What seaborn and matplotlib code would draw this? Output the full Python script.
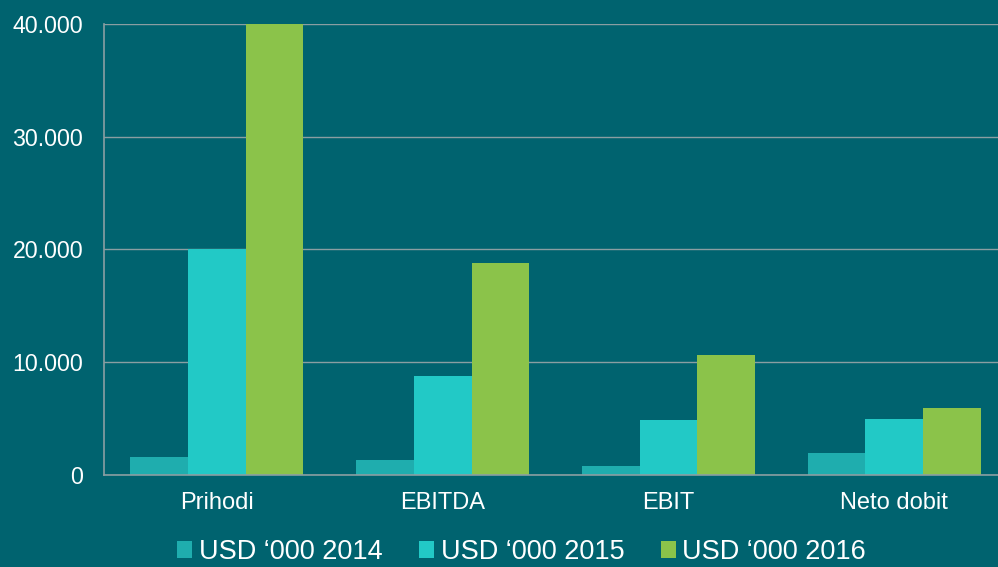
import pandas as pd
import numpy as np
import matplotlib.pyplot as plt
import seaborn as sns
from matplotlib.ticker import FuncFormatter, MultipleLocator

# data (USD '000)
categories = ['Prihodi', 'EBITDA', 'EBIT', 'Neto dobit']
series = ['USD \u2018000 2014', 'USD \u2018000 2015', 'USD \u2018000 2016']
vals_2014 = [1600, 1330, 800, 1980]
vals_2015 = [20000, 8780, 4880, 4990]
vals_2016 = [40000, 18800, 10640, 5940]

df = pd.DataFrame({
    'kategorija': categories * 3,
    'serija': [series[0]] * 4 + [series[1]] * 4 + [series[2]] * 4,
    'vrijednost': vals_2014 + vals_2015 + vals_2016,
})

bg = '#00636f'
grid_col = '#8a9ea2'
colors = ['#1fadae', '#22c9c6', '#8bc34a']

sns.set_style('white')
plt.rcParams['font.family'] = ['Liberation Sans', 'DejaVu Sans']

fig = plt.figure(figsize=(9.98, 5.67), dpi=100, facecolor=bg)
ax = fig.add_axes([0.1042, 0.1623, 0.905, 0.7954])
ax.set_facecolor(bg)

sns.barplot(data=df, x='kategorija', y='vrijednost', hue='serija',
            palette=colors, width=0.766, gap=0, linewidth=0,
            saturation=1, ax=ax, legend=True)

ax.set_ylim(0, 40000)
ax.yaxis.set_major_locator(MultipleLocator(10000))
ax.yaxis.set_major_formatter(FuncFormatter(lambda v, p: f'{v:,.0f}'.replace(',', '.')))
ax.grid(axis='y', color=grid_col, linewidth=1)
ax.set_axisbelow(True)
ax.set_xlabel('')
ax.set_ylabel('')

for s in ['top', 'right']:
    ax.spines[s].set_visible(False)
for s in ['left', 'bottom']:
    ax.spines[s].set_color(grid_col)
    ax.spines[s].set_linewidth(1.2)

ax.tick_params(axis='x', length=0, pad=12, labelsize=17, labelcolor='white')
ax.tick_params(axis='y', length=0, pad=15, labelsize=16.7, labelcolor='white')

h, l = ax.get_legend_handles_labels()
ax.get_legend().remove()
fig.legend(h, l, loc='center', bbox_to_anchor=(0.5226, 15 / 567), ncol=3,
           frameon=False, fontsize=19.5, labelcolor='white',
           handlelength=0.55, handleheight=0.55, handletextpad=0.25,
           columnspacing=1.35, borderaxespad=0, borderpad=0)

plt.savefig('out.png', dpi=100, facecolor=bg)
